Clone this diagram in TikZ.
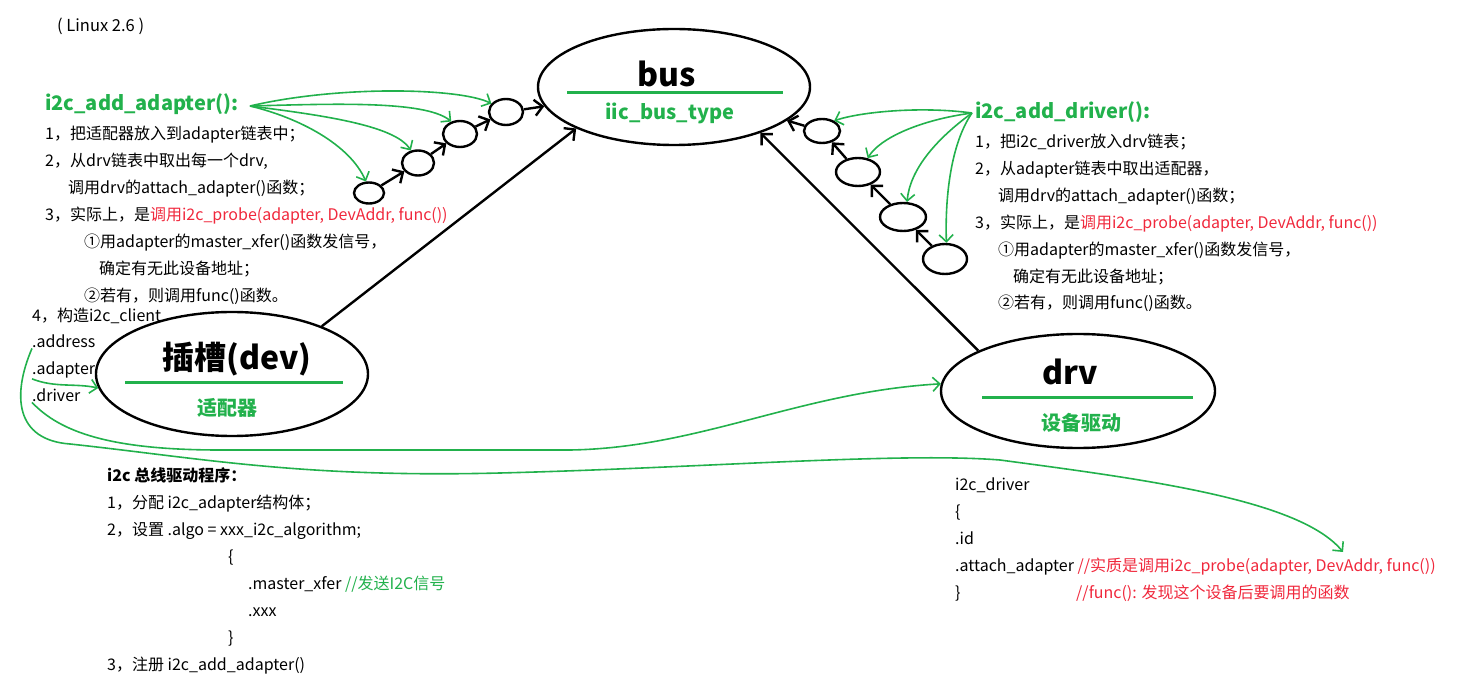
\documentclass[tikz,border=0pt]{standalone}
\usepackage{fontspec}
\setmainfont{Noto Sans CJK SC}
\usetikzlibrary{shapes.geometric,arrows.meta}
\definecolor{pgreen}{HTML}{22B14C}
\definecolor{pred}{HTML}{F0283C}
\tikzset{
  txt/.style={anchor=base west, inner sep=0pt, font=\fontsize{16}{19}\selectfont},
  hd/.style={anchor=base west, inner sep=0pt, text=pgreen, font=\fontsize{20}{24}\selectfont\bfseries},
  big/.style={ellipse, draw, line width=2.4pt, inner sep=0pt},
  nm/.style={anchor=base, inner sep=0pt, font=\fontsize{32}{36}\selectfont\bfseries},
  sub/.style={anchor=base, inner sep=0pt, text=pgreen, font=\fontsize{20}{24}\selectfont\bfseries},
  bar/.style={pgreen, line width=3pt},
  ring/.style={ellipse, draw, line width=2.4pt, inner sep=0pt},
  blk/.style={line width=2.4pt, -{Straight Barb[length=8pt,width=16pt]}},
  grn/.style={pgreen, line width=1.6pt, -{Straight Barb[length=7pt,width=14pt]}},
}
\begin{document}
\begin{tikzpicture}[x=1pt,y=-1pt]
\useasboundingbox (0,0) rectangle (1470,700);
\node[txt, font=\fontsize{16.5}{19}\selectfont] (ver) at (57,32) {( Linux 2.6 )};

% the three main parts
\node[big, minimum width=272, minimum height=116] (bus) at (674,87) {};
\node[nm] (busnm) at (667,87) {bus};
\draw[bar] (567,93) -- (783,93);
\node[sub] (bustp) at (670,120) {iic\_bus\_type};

\node[big, minimum width=272, minimum height=124] (dev) at (232,374) {};
\node[nm] (devnm) at (237,370) {插槽(dev)};
\draw[bar] (125,383) -- (343,383);
\node[sub] (devtp) at (227,416) {适配器};

\node[big, minimum width=274, minimum height=114] (drv) at (1078,391) {};
\node[nm] (drvnm) at (1070,385) {drv};
\draw[bar] (982,398) -- (1193,398);
\node[sub] (drvtp) at (1081,431) {设备驱动};

\draw[blk] (dev.28) -- (bus.203);
\draw[blk] (drv.158) -- (bus.332);

% adapter list
\node[ring, minimum width=30, minimum height=21] (c1) at (369,193) {};
\node[ring, minimum width=32, minimum height=25] (c2) at (418,163) {};
\node[ring, minimum width=34, minimum height=26] (c3) at (460,134) {};
\node[ring, minimum width=34, minimum height=26] (c4) at (506,112) {};
\draw[blk] (c1) -- (c2);
\draw[blk] (c2) -- (c3);
\draw[blk] (c3) -- (c4);
\draw[blk] (c4) -- (bus);

% driver list
\node[ring, minimum width=36, minimum height=24] (r1) at (822,131) {};
\node[ring, minimum width=44, minimum height=28] (r2) at (858,172) {};
\node[ring, minimum width=46, minimum height=28] (r3) at (903,217) {};
\node[ring, minimum width=44, minimum height=30] (r4) at (945,259) {};
\draw[blk] (r4) -- (r3);
\draw[blk] (r3) -- (r2);
\draw[blk] (r2) -- (r1);
\draw[blk] (r1) -- (bus);

% left text
\node[hd] (adtl) at (45,111) {i2c\_add\_adapter():};
\node[txt] (al1) at (45,140) {1，把适配器放入到adapter链表中；};
\node[txt] (al2) at (45,167) {2，从drv链表中取出每一个drv,};
\node[txt] (al3) at (68,194) {调用drv的attach\_adapter()函数；};
\node[txt] (al4) at (45,221) {3，实际上，是\textcolor{pred}{调用i2c\_probe(adapter, DevAddr, func())}};
\node[txt] (al5) at (84,248) {①用adapter的master\_xfer()函数发信号，};
\node[txt] (al6) at (99,275) {确定有无此设备地址；};
\node[txt] (al7) at (84,302) {②若有，则调用func()函数。};
\node[txt] (al8) at (32,322) {4，构造i2c\_client};
\node[txt] (addr) at (32,348) {.address};
\node[txt] (adp) at (32,375) {.adapter};
\node[txt] (drvr) at (32,402) {.driver};

% right text
\node[hd] (drtl) at (975,119) {i2c\_add\_driver():};
\node[txt] (dl1) at (975,148) {1，把i2c\_driver放入drv链表；};
\node[txt] (dl2) at (975,175) {2，从adapter链表中取出适配器，};
\node[txt] (dl3) at (998,202) {调用drv的attach\_adapter()函数；};
\node[txt] (dl4) at (975,229) {3，实际上，是\textcolor{pred}{调用i2c\_probe(adapter, DevAddr, func())}};
\node[txt] (dl5) at (998,256) {①用adapter的master\_xfer()函数发信号，};
\node[txt] (dl6) at (1013,283) {确定有无此设备地址；};
\node[txt] (dl7) at (998,309) {②若有，则调用func()函数。};

% bus driver
\node[txt, font=\fontsize{16}{19}\selectfont\bfseries] (bd0) at (107,481) {i2c 总线驱动程序：};
\node[txt] (bd1) at (107,508) {1，分配 i2c\_adapter结构体；};
\node[txt] (bd2) at (107,535) {2，设置 .algo = xxx\_i2c\_algorithm;};
\node[txt] (bd3) at (228,562) {\{};
\node[txt] (bd4) at (248,589) {.master\_xfer \textcolor{pgreen}{//发送I2C信号}};
\node[txt] (bd5) at (248,616) {.xxx};
\node[txt] (bd6) at (228,643) {\}};
\node[txt] (bd7) at (107,670) {3，注册 i2c\_add\_adapter()};

% i2c_driver
\node[txt] (id0) at (955,490) {i2c\_driver};
\node[txt] (id1) at (955,517) {\{};
\node[txt] (id2) at (955,544) {.id};
\node[txt] (id3) at (955,571) {.attach\_adapter \textcolor{pred}{//实质是调用i2c\_probe(adapter, DevAddr, func())}};
\node[txt] (id4) at (955,598) {\}};
\node[txt] (id5) at (1076,598) {\textcolor{pred}{//func(): 发现这个设备后要调用的函数}};

% green arrows
\coordinate (adsrc) at (250,106);
\draw[grn] (adsrc) .. controls (340,85) and (460,88) .. (c4.150);
\draw[grn] (adsrc) .. controls (330,104) and (425,100) .. (c3.125);
\draw[grn] (adsrc) .. controls (320,115) and (395,125) .. (c2.120);
\draw[grn] (adsrc) .. controls (300,118) and (350,145) .. (c1.105);

\coordinate (drsrc) at (972,113);
\draw[grn] (drsrc) .. controls (920,106) and (860,112) .. (r1.40);
\draw[grn] (drsrc) .. controls (920,120) and (880,138) .. (r2.55);
\draw[grn] (drsrc) .. controls (935,140) and (910,170) .. (r3.75);
\draw[grn] (drsrc) .. controls (950,145) and (945,200) .. (r4.85);

\draw[grn] (adp.south west) .. controls (55,388) and (75,383) .. (dev.186);
\draw[grn] (drvr.south west) .. controls (60,432) and (110,450) .. (220,450) -- (570,450) .. controls (700,448) and (800,392) .. (drv.177);
\coordinate (probe) at (1343,552);
\draw[grn] (addr.south west) .. controls (12,395) and (15,440) .. (70,444) .. controls (200,458) and (300,478) .. (500,473) .. controls (700,468) and (900,452) .. (1000,460) .. controls (1150,480) and (1300,500) .. (probe);
\end{tikzpicture}
\end{document}
